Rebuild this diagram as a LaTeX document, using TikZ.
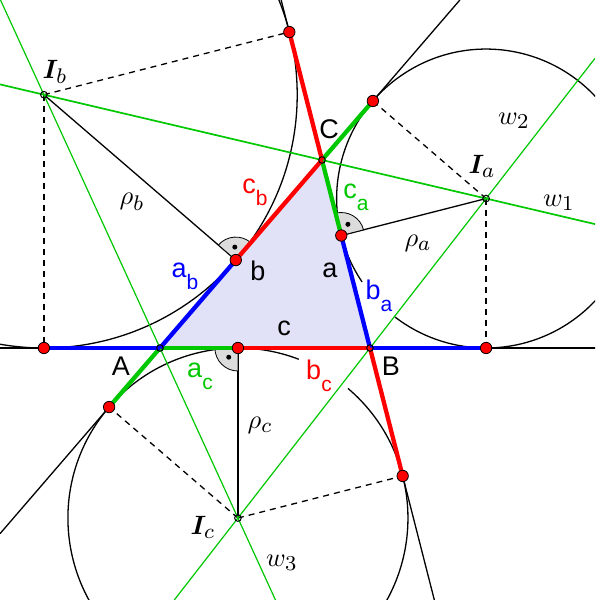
\documentclass[tikz,border=0pt]{standalone}
\usepackage{amsmath}
\usepackage{bm}
\usepackage{graphicx}
\usepackage{fontspec}
\setsansfont{Liberation Sans}
\usetikzlibrary{calc}
\DeclareMathSizes{10}{10}{8}{6}
\definecolor{mygreen}{RGB}{0,200,0}
\definecolor{myblue}{RGB}{0,0,255}
\definecolor{myred}{RGB}{255,0,0}
\definecolor{trifill}{RGB}{225,225,248}
\definecolor{markgray}{RGB}{220,220,220}
\newcommand{\ssub}[2]{#1\raisebox{-12pt}{\fontsize{21}{21}\selectfont #2}}
\newcommand{\bigmath}[1]{\scalebox{2.65}{$#1$}}
\begin{document}
\begin{tikzpicture}[x=1pt,y=-1pt,
  blk/.style={line width=1.3pt},
  circ/.style={line width=1.3pt},
  dsh/.style={line width=1.3pt, dash pattern=on 6pt off 5pt},
  wline/.style={draw=mygreen, line width=1.2pt},
  wmain/.style={draw=mygreen, line width=1.7pt},
  seg/.style={line width=4.3pt},
  rmark/.style={fill=markgray, draw=black, line width=0.8pt},
  tdot/.style={fill=myred, draw=black, line width=0.8pt},
  vdot/.style={draw=black, line width=1pt},
  slab/.style={font=\sffamily\fontsize{27}{27}\selectfont, inner sep=0pt},
  mlab/.style={inner sep=0pt}]
\useasboundingbox (0,0) rectangle (595,600);
\clip (0,0) rectangle (595,600);
% points
\coordinate (A) at (160,348);
\coordinate (B) at (370,348);
\coordinate (C) at (322,160);
\coordinate (Ia) at (486.100,198.533);
\coordinate (Ib) at (43.900,94.700);
\coordinate (Ic) at (237.931,518.026);
\coordinate (Ta1) at (341.279,235.509);
\coordinate (Ta2) at (372.871,100.964);
\coordinate (Ta3) at (486.100,348);
\coordinate (Tb1) at (235.788,260.049);
\coordinate (Tb2) at (289.328,32.036);
\coordinate (Tb3) at (43.900,348);
\coordinate (Tc1) at (237.931,348);
\coordinate (Tc2) at (109.129,407.036);
\coordinate (Tc3) at (402.672,475.964);
% edge points
\coordinate (ABl) at (-5,348);
\coordinate (ABr) at (600,348);
\coordinate (ACl) at (0,533.679);
\coordinate (ACu) at (459.872,0);
\coordinate (BCu) at (281.149,0);
\coordinate (BCd) at (434.340,600);
\coordinate (w1l) at (0,84.392);
\coordinate (w1r) at (595,224.104);
\coordinate (w2u) at (595,58.335);
\coordinate (w2d) at (174.257,600);
\coordinate (w3u) at (0.494,0);
\coordinate (w3d) at (275.504,600);
% triangle
\fill[trifill] (A) -- (B) -- (C) -- cycle;
% excircles
\draw[circ] (Ib) circle[radius=253.300];
\draw[circ] (Ia) ++(146.06:149.467) arc[start angle=146.06, end angle=487.57, radius=149.467];
\draw[circ] (Ic) ++(-49.66:170.026) arc[start angle=-49.66, end angle=290.96, radius=170.026];
% side lines
\draw[blk] (ABl) -- (ABr);
\draw[blk] (ACl) -- (ACu);
\draw[blk] (BCu) -- (BCd);
% radii
\draw[blk] (Ib) -- (Tb1);
\draw[blk] (Ia) -- (Ta1);
\draw[blk] (Ic) -- (Tc1);
\draw[dsh] (Ib) -- (Tb2);
\draw[dsh] (Ib) -- (Tb3);
\draw[dsh] (Ia) -- (Ta2);
\draw[dsh] (Ia) -- (Ta3);
\draw[dsh] (Ic) -- (Tc2);
\draw[dsh] (Ic) -- (Tc3);
% bisectors
\draw[wmain] (w1l) -- (w1r);
\draw[wline] (w2u) -- (w2d);
\draw[wline] (w3u) -- (w3d);
% right angle marks
\filldraw[rmark] (Tb1) -- ++(-139.25:23) arc[start angle=-139.25, end angle=-49.25, radius=23] -- cycle;
\fill (Tb1) ++(-94.25:13) circle[radius=2.5];
\filldraw[rmark] (Ta1) -- ++(-104.32:23) arc[start angle=-104.32, end angle=-14.32, radius=23] -- cycle;
\fill (Ta1) ++(-59.32:13) circle[radius=2.5];
\filldraw[rmark] (Tc1) -- ++(90:23) arc[start angle=90, end angle=180, radius=23] -- cycle;
\fill (Tc1) ++(135:13) circle[radius=2.5];
% coloured segments
\draw[seg, mygreen] (Tc2) -- (A);
\draw[seg, mygreen] (A) -- (Tc1);
\draw[seg, mygreen] (C) -- (Ta1);
\draw[seg, mygreen] (C) -- (Ta2);
\draw[seg, myblue] (Tb3) -- (A);
\draw[seg, myblue] (A) -- (Tb1);
\draw[seg, myblue] (Ta1) -- (B);
\draw[seg, myblue] (B) -- (Ta3);
\draw[seg, myred] (Tb1) -- (C);
\draw[seg, myred] (C) -- (Tb2);
\draw[seg, myred] (Tc1) -- (B);
\draw[seg, myred] (B) -- (Tc3);
% dots
\foreach \p in {Ta1,Ta2,Ta3,Tb1,Tb2,Tb3,Tc1,Tc2,Tc3}
  \filldraw[tdot] (\p) circle[radius=5.7];
\foreach \p in {A,B,C,Ia,Ib,Ic}
  \draw[vdot] (\p) circle[radius=3.3];
% labels
\node[slab] (lC) at (329,129) {C};
\node[slab] (lA) at (121,366) {A};
\node[slab] (lB) at (391,366) {B};
\node[slab] (la) at (330,270) {a};
\node[slab] (lb) at (258,271) {b};
\node[slab] (lc) at (284,328) {c};
\node[slab, text=myred] (lcb) at (255,192) {\ssub{c}{b}};
\node[slab, text=mygreen] (lca) at (356,197) {\ssub{c}{a}};
\node[slab, text=myblue] (lab) at (185,276) {\ssub{a}{b}};
\node[slab, text=myblue] (lba) at (379,296) {\ssub{b}{a}};
\node[slab, text=mygreen] (lac) at (200,376) {\ssub{a}{c}};
\node[slab, text=myred] (lbc) at (319,376) {\ssub{b}{c}};
\node[mlab] (lra) at (418,243) {\bigmath{\rho_a}};
\node[mlab] (lrb) at (132,202) {\bigmath{\rho_b}};
\node[mlab] (lrc) at (260,425) {\bigmath{\rho_c}};
\node[mlab] (lIa) at (482,166) {\bigmath{\bm{I}_a}};
\node[mlab] (lIb) at (55,72) {\bigmath{\bm{I}_b}};
\node[mlab] (lIc) at (203,527) {\bigmath{\bm{I}_c}};
\node[mlab] (lw1) at (559,203) {\bigmath{w_1}};
\node[mlab] (lw2) at (514,121) {\bigmath{w_2}};
\node[mlab] (lw3) at (282,563) {\bigmath{w_3}};
\end{tikzpicture}
\end{document}
